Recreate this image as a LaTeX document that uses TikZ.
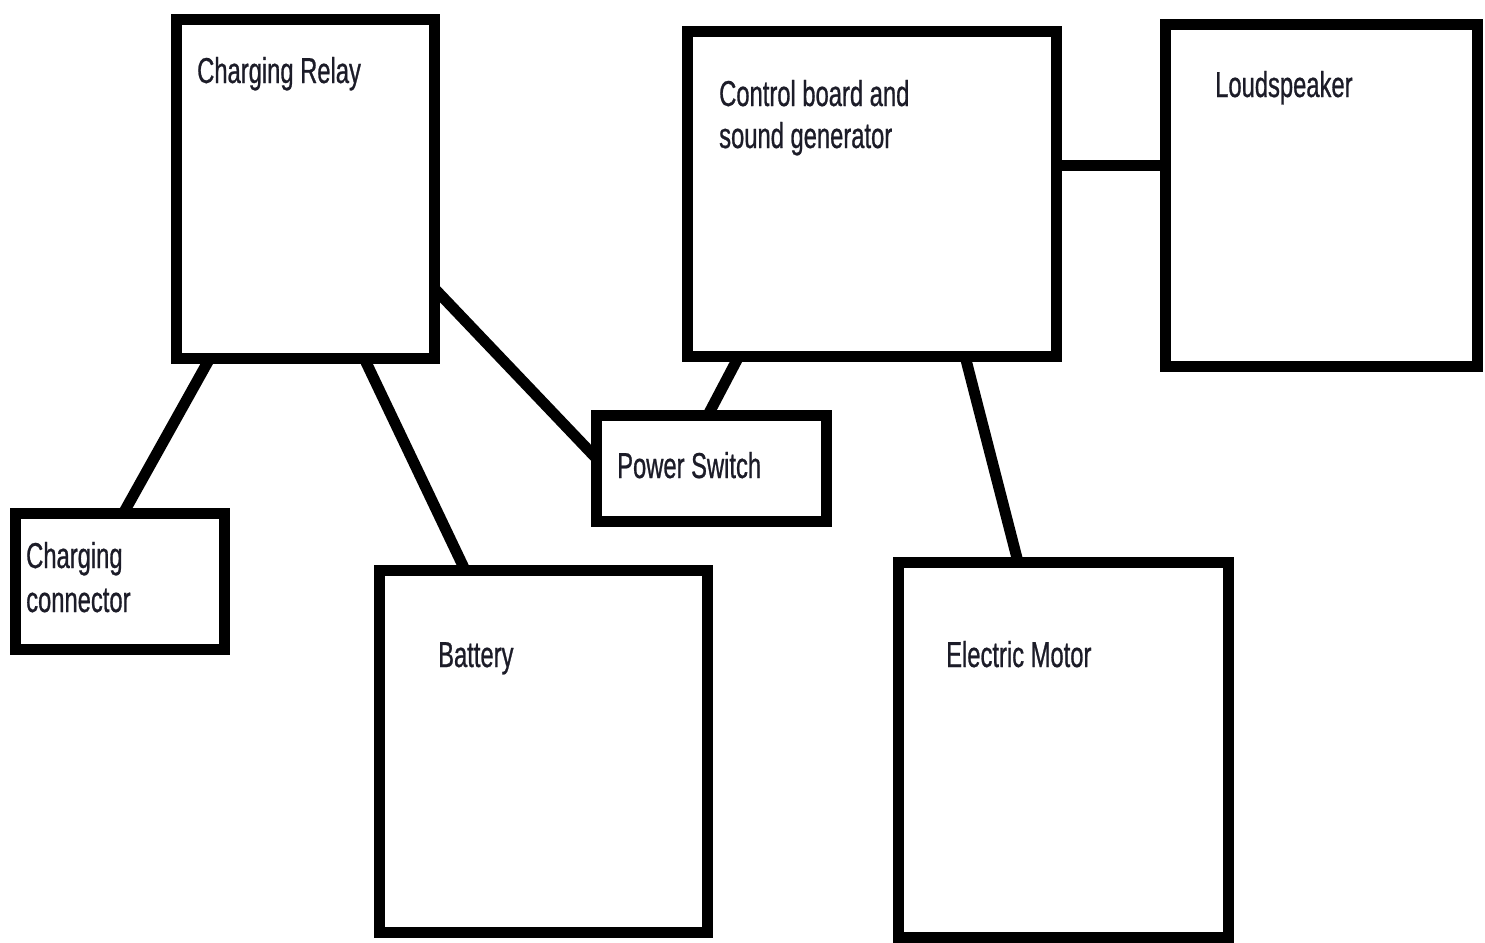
\documentclass[tikz,border=0pt]{standalone}
\usepackage{fontspec}
\setmainfont{Liberation Sans}[FakeStretch=0.66,FakeBold=0.7]
\definecolor{txt}{HTML}{1C1C28}
\begin{document}
\begin{tikzpicture}[x=1pt,y=-1pt,
  box/.style={draw=black,line width=11pt,rectangle,inner sep=0pt,outer sep=0pt,fill=white},
  link/.style={draw=black,line width=11pt},
  lbl/.style={anchor=base west,inner sep=0pt,text=txt,font=\fontsize{36}{42}\selectfont}]
\useasboundingbox[fill=white] (0,0) rectangle (1485,942);
% boxes
\node[box,minimum width=258pt,minimum height=338pt] (relay) at (305,189) {};
\node[box,minimum width=369pt,minimum height=324pt] (ctrl) at (871.5,194) {};
\node[box,minimum width=312pt,minimum height=341pt] (spk) at (1321,195.5) {};
\node[box,minimum width=230pt,minimum height=106pt] (sw) at (711,468) {};
\node[box,minimum width=208.5pt,minimum height=136pt] (conn) at (119.75,581) {};
\node[box,minimum width=328pt,minimum height=362pt] (bat) at (543,751) {};
\node[box,minimum width=330pt,minimum height=375pt] (mot) at (1063,749.5) {};
% connectors
\draw[link] ([xshift=34pt]relay.south west) -- ([xshift=108pt]conn.north west);
\draw[link] ([xshift=188pt]relay.south west) -- ([xshift=86pt]bat.north west);
\draw[link] ([yshift=-268pt]relay.north east) -- ([yshift=-43pt]sw.north west);
\draw[link] ([xshift=52pt]ctrl.south west) -- ([xshift=112pt]sw.north west);
\draw[link] ([xshift=278pt]ctrl.south west) -- ([xshift=120pt]mot.north west);
\draw[link] ([yshift=-133pt]ctrl.north east) -- ([yshift=-140pt]spk.north west);
% labels
\node[lbl] (trelay) at (197,83) {Charging Relay};
\node[lbl] (tctrl1) at (719,106) {Control board and};
\node[lbl] (tctrl2) at (719,148) {sound generator};
\node[lbl] (tspk) at (1215,97) {Loudspeaker};
\node[lbl] (tsw) at (617,478) {Power Switch};
\node[lbl] (tconn1) at (26,568) {Charging};
\node[lbl] (tconn2) at (26,612) {connector};
\node[lbl] (tbat) at (438,667) {Battery};
\node[lbl] (tmot) at (946,667) {Electric Motor};
\end{tikzpicture}
\end{document}
